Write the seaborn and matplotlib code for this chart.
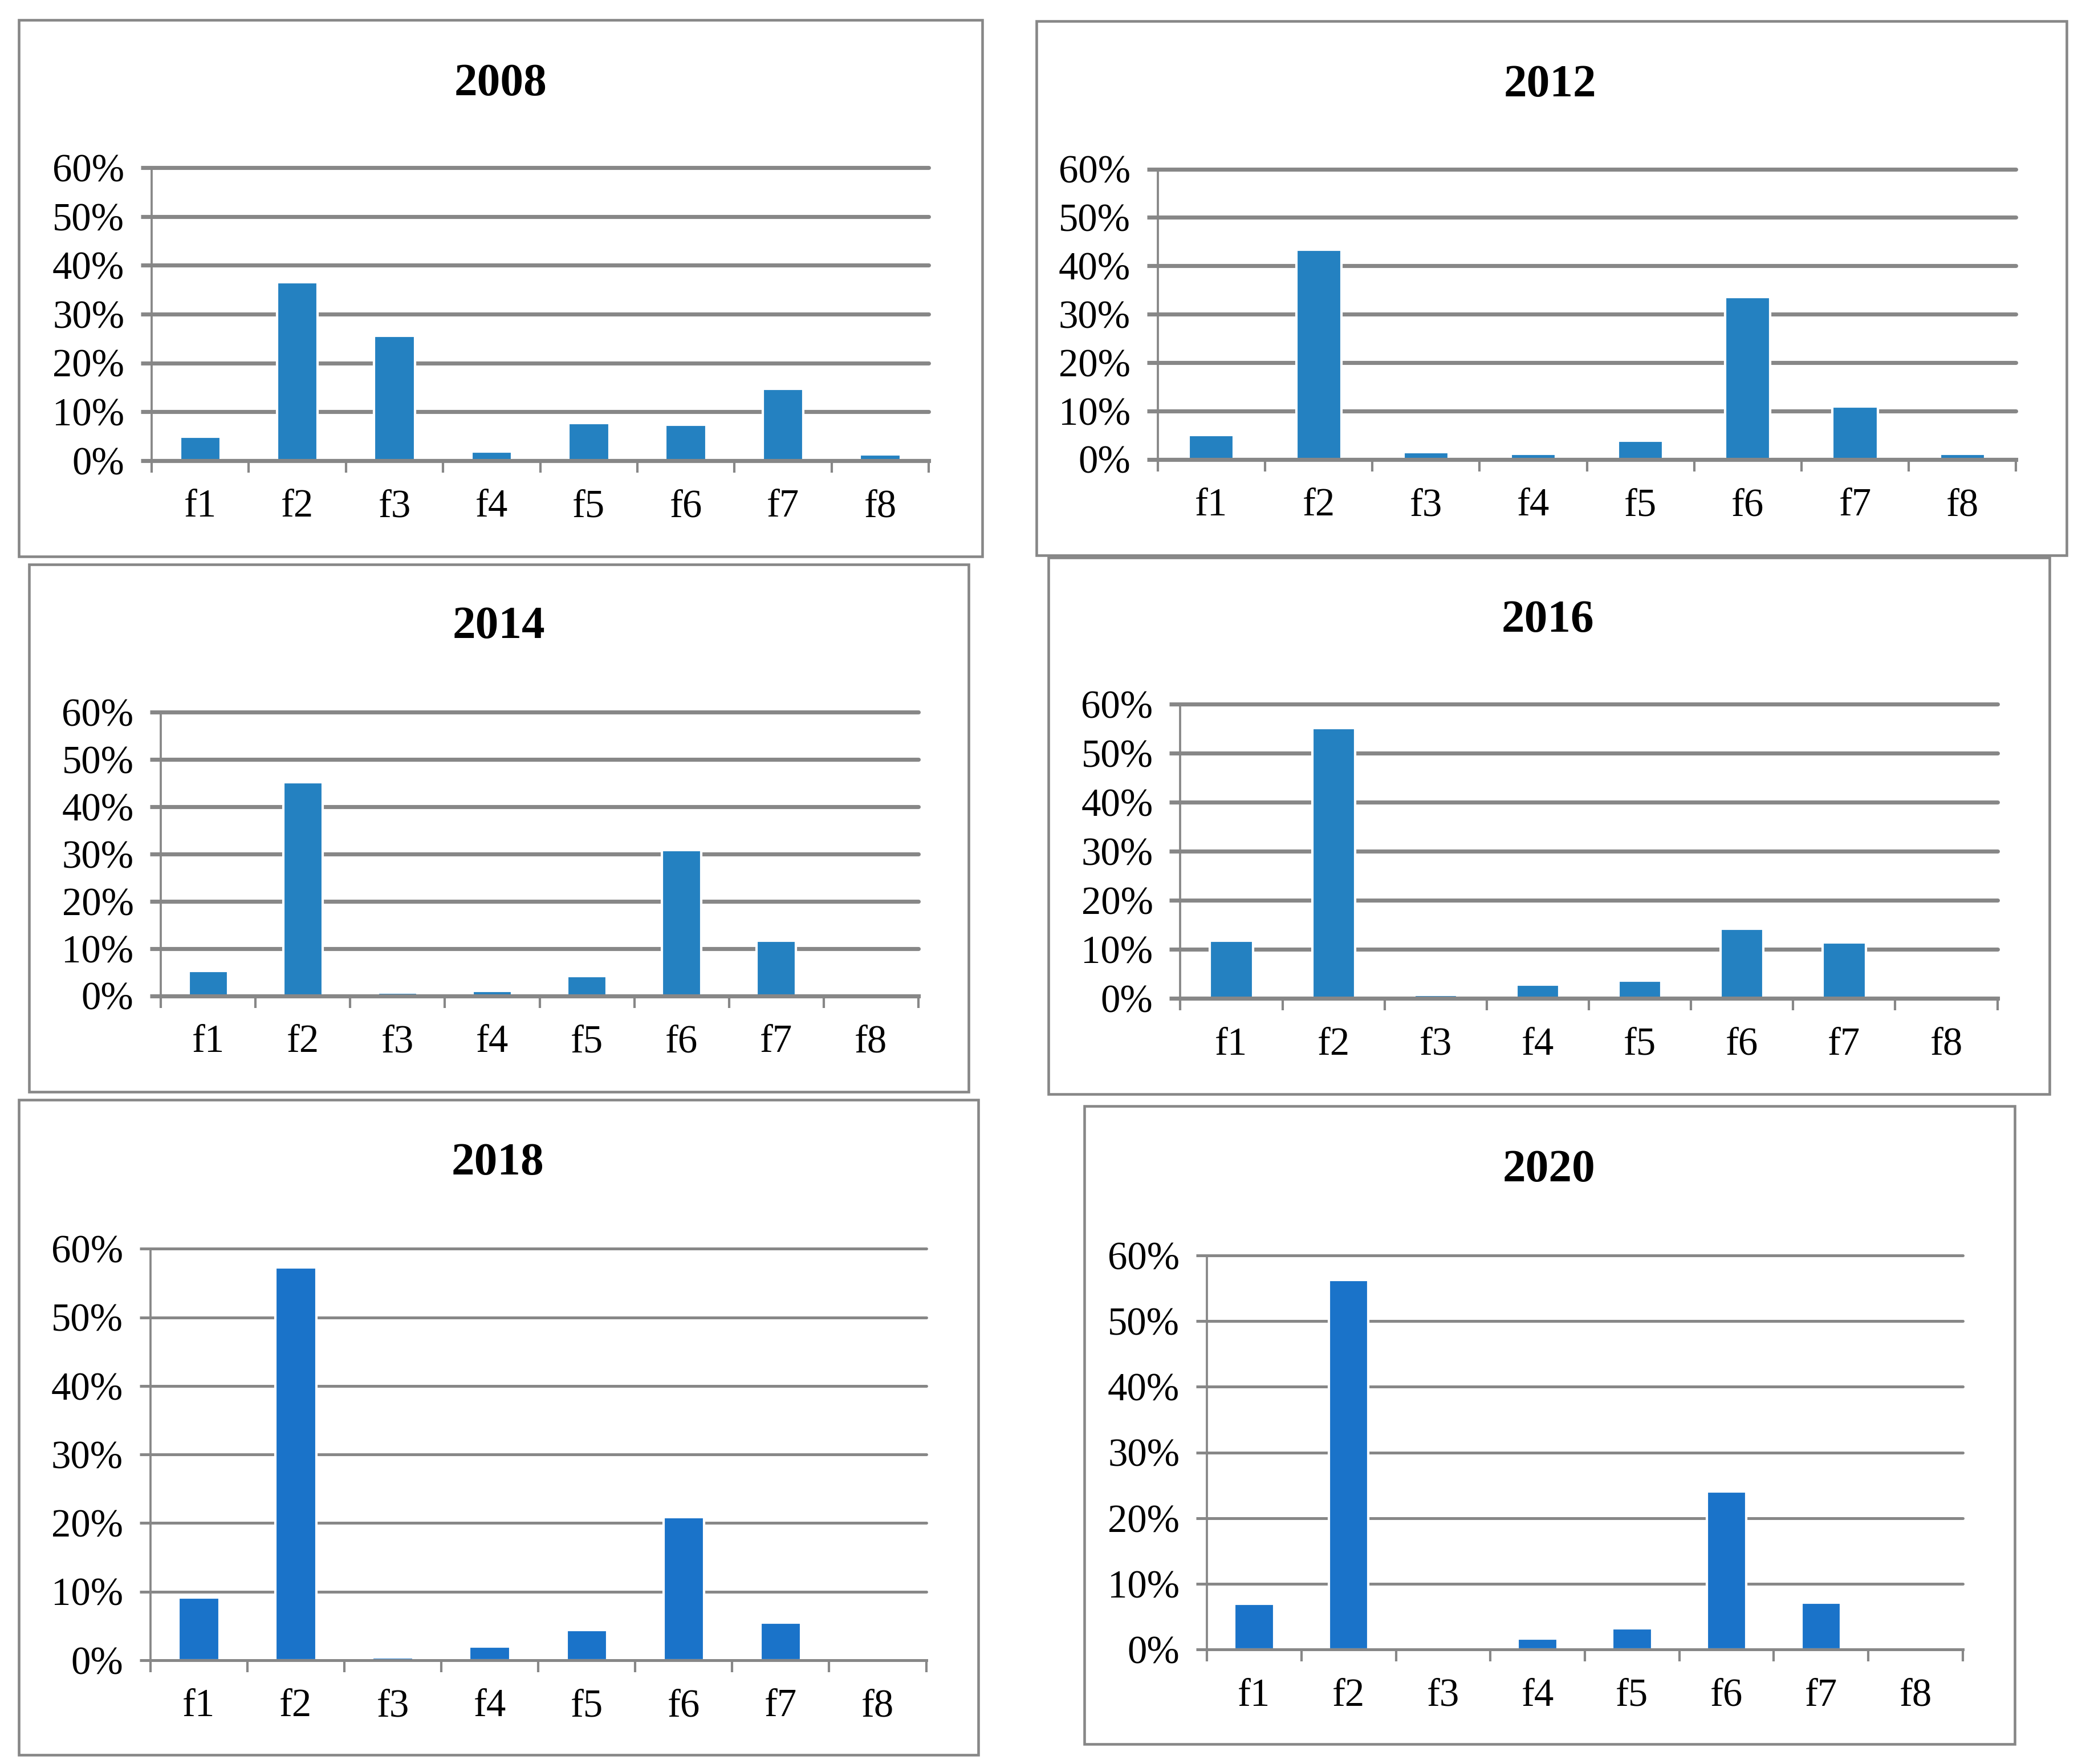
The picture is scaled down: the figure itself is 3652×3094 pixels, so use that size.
import numpy as np
import matplotlib.pyplot as plt
import seaborn as sns
from matplotlib.patches import Rectangle

# ------------------------------------------
# Data (shares in %)
# ------------------------------------------

categories = ['f1', 'f2', 'f3', 'f4', 'f5', 'f6', 'f7', 'f8']

v2008 = [4.9, 36.5, 25.6, 1.9, 7.7, 7.3, 14.7, 1.3]
v2012 = [5.0, 43.3, 1.5, 1.1, 3.9, 33.5, 10.9, 1.1]
v2014 = [5.3, 45.2, 0.7, 1.1, 4.2, 30.9, 11.6, 0.0]
v2016 = [11.8, 55.2, 0.7, 2.8, 3.6, 14.2, 11.4, 0.0]
v2018 = [9.1, 57.3, 0.4, 2.0, 4.4, 20.9, 5.5, 0.0]
v2020 = [7.0, 56.3, 0.4, 1.7, 3.2, 24.1, 7.1, 0.0]

years = ['2008', '2012', '2014', '2016', '2018', '2020']
series = [v2008, v2012, v2014, v2016, v2018, v2020]
y_ticks = [0, 10, 20, 30, 40, 50, 60]

# ------------------------------------------
# Layout (reference pixel grid 1565 x 1325)
# box = (x0, y0, x1, y1), plot = (left, right, top60, bottom0), title = (cx, cy)
# ------------------------------------------

W, H = 1565.0, 1325.0

layout = [
    dict(box=(14, 15, 738, 418), plot=(114, 698, 126, 346), title=(376, 63),
         color='#2481c1', grid_lw=1.7),
    dict(box=(779, 16, 1553, 417), plot=(870, 1515, 127, 345), title=(1165, 64),
         color='#2481c1', grid_lw=1.7),
    dict(box=(22, 424, 728, 820), plot=(121, 690, 535, 748), title=(375, 471),
         color='#2481c1', grid_lw=1.7),
    dict(box=(788, 419, 1540, 822), plot=(887, 1501, 529, 750), title=(1163, 466),
         color='#2481c1', grid_lw=1.7),
    dict(box=(14, 826, 735, 1318), plot=(113, 696, 938, 1247), title=(374, 874),
         color='#1a73c9', grid_lw=1.2),
    dict(box=(815, 831, 1514, 1310), plot=(907, 1475, 943, 1239), title=(1164, 879),
         color='#1a73c9', grid_lw=1.2),
]

grey = '#878787'

sns.set_style('white')
plt.rcParams['font.family'] = ['Liberation Serif', 'DejaVu Serif']
plt.rcParams['text.color'] = 'black'
plt.rcParams['xtick.color'] = 'black'
plt.rcParams['ytick.color'] = 'black'

fig = plt.figure(figsize=(3653 / 300, 3094 / 300), dpi=300)

for year, vals, spec in zip(years, series, layout):

    # panel frame
    bx0, by0, bx1, by1 = spec['box']
    fig.add_artist(Rectangle((bx0 / W, 1 - by1 / H), (bx1 - bx0) / W, (by1 - by0) / H,
                             transform=fig.transFigure, fill=False,
                             edgecolor=grey, linewidth=1.1))

    # title
    cx, cy = spec['title']
    fig.text(cx / W, 1 - cy / H, year, ha='center', va='center',
             fontsize=19.5, fontweight='bold', color='black')

    # plot area
    pl, pr, pt, pb = spec['plot']
    ax = fig.add_axes([pl / W, 1 - pb / H, (pr - pl) / W, (pb - pt) / H])

    sns.barplot(x=categories, y=vals, color=spec['color'], saturation=1,
                width=0.42, ax=ax)

    ax.set_xlim(-0.5, 7.5)
    ax.set_ylim(0, 60)
    ax.set_yticks(y_ticks)
    ax.set_yticklabels([f'{t}%' for t in y_ticks])
    ax.set_xlabel('')
    ax.set_ylabel('')

    ax.yaxis.grid(True, color=grey, linewidth=spec['grid_lw'])
    for gl in ax.get_ygridlines():
        gl.set_clip_on(False)
    ax.set_axisbelow(True)

    for side in ['top', 'right']:
        ax.spines[side].set_visible(False)
    ax.spines['left'].set_color(grey)
    ax.spines['left'].set_linewidth(0.9)
    ax.spines['bottom'].set_color(grey)
    ax.spines['bottom'].set_linewidth(spec['grid_lw'])

    ax.tick_params(axis='y', which='major', left=True, direction='out', length=4.5,
                   width=spec['grid_lw'], color=grey, labelcolor='black',
                   pad=7, labelsize=16.5)
    ax.tick_params(axis='x', which='major', bottom=True, length=0, pad=12,
                   labelcolor='black', labelsize=16.5)
    ax.set_xticks(np.arange(-0.5, 8, 1), minor=True)
    ax.tick_params(axis='x', which='minor', bottom=True, direction='out', length=5,
                   width=1.0, color=grey)

plt.savefig('out.png', dpi=300, facecolor='white')
